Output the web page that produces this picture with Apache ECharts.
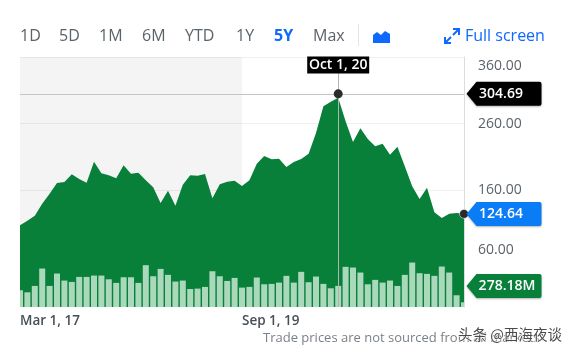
<!DOCTYPE html>
<html>
<head>
<meta charset="utf-8">
<style>
  html, body { margin: 0; padding: 0; background: #fff; }
  #main { width: 573px; height: 351px; }
</style>
<script src="https://cdn.jsdelivr.net/npm/echarts@6/dist/echarts.min.js"></script>
</head>
<body>
<div id="main"></div>
<script>
const dates = [
  "Mar 1, 17","Apr 1, 17","May 1, 17","Jun 1, 17","Jul 1, 17","Aug 1, 17","Sep 1, 17","Oct 1, 17","Nov 1, 17","Dec 1, 17",
  "Jan 1, 18","Feb 1, 18","Mar 1, 18","Apr 1, 18","May 1, 18","Jun 1, 18","Jul 1, 18","Aug 1, 18","Sep 1, 18","Oct 1, 18",
  "Nov 1, 18","Dec 1, 18","Jan 1, 19","Feb 1, 19","Mar 1, 19","Apr 1, 19","May 1, 19","Jun 1, 19","Jul 1, 19","Aug 1, 19",
  "Sep 1, 19","Oct 1, 19","Nov 1, 19","Dec 1, 19","Jan 1, 20","Feb 1, 20","Mar 1, 20","Apr 1, 20","May 1, 20","Jun 1, 20",
  "Jul 1, 20","Aug 1, 20","Sep 1, 20","Oct 1, 20","Nov 1, 20","Dec 1, 20","Jan 1, 21","Feb 1, 21","Mar 1, 21","Apr 1, 21",
  "May 1, 21","Jun 1, 21","Jul 1, 21","Aug 1, 21","Sep 1, 21","Oct 1, 21","Nov 1, 21","Dec 1, 21","Jan 1, 22","Feb 1, 22",
  "Mar 1, 22"
];
const prices = [
  107.5,114.5,122,140,155,171,172.5,184,177,171.5,
  203,185.5,182.5,178,197.5,185,186.5,175,164.5,141,
  159.5,137,168.5,182.5,182,184.5,148,169,173,174.5,
  166.5,175,200,211.5,206.5,207.5,195,202.5,207,215,
  246,286,293,299,263.5,232.5,253,237,226,230,
  213.5,225.5,196,166,147,164,127,118.5,125,126,
  124.64
];
const volumes = [
  221,194,278,508,278,442,349,331,397,397,
  415,415,366,318,393,393,318,552,406,503,
  424,336,349,238,243,265,472,406,344,384,
  256,265,389,300,305,322,411,322,464,327,
  402,305,247,278.18,530,521,455,300,358,322,
  349,278,424,587,446,437,411,534,455,155,
  62
];
const priceTicks = [60, 160, 260, 360];
const xLabelDates = ["Mar 1, 17", "Sep 1, 19"];
const ranges = ["1D", "5D", "1M", "6M", "YTD", "1Y", "5Y", "Max"];
const rangeX = [20, 59, 99, 142, 185, 236, 274, 313];
const hoverDate = "Oct 1, 20";
const hoverPrice = 304.69;
const hoverVolume = 278.18;
const lastDate = "Mar 1, 22";
const lastPrice = 124.64;

const font = '"Open Sans", sans-serif';
const tagPath = "path://M0 12 L10 0 L73 0 Q75 0 75 2 L75 22 Q75 24 73 24 L10 24 Z";

function tag(date, value, color, text, dx) {
  return {
    coord: [date, value],
    symbol: tagPath,
    symbolSize: [75, 24],
    symbolOffset: [40, 0],
    itemStyle: { color: color, shadowColor: "rgba(0,0,0,0.3)", shadowBlur: 2, shadowOffsetY: 1 },
    label: {
      show: true, position: "inside", offset: [dx, 0], formatter: text,
      color: "#fff", fontFamily: font, fontSize: 14, fontWeight: 600
    }
  };
}

function topText(str, x, y, fill, cssFont, extra) {
  return {
    type: "text",
    x: x,
    y: y,
    z: 10,
    style: Object.assign({ text: str, fill: fill, font: cssFont, textVerticalAlign: "middle" }, extra || {})
  };
}

// volume bars, cut off at the plot edges like the first and last month in the original
function renderVolumeBar(params, api) {
  const top = api.coord([api.value(0), api.value(1)]);
  const bottom = api.coord([api.value(0), 0]);
  const rect = echarts.graphic.clipRectByRect(
    { x: top[0] - 3, y: top[1], width: 6, height: bottom[1] - top[1] },
    { x: params.coordSys.x, y: params.coordSys.y, width: params.coordSys.width, height: params.coordSys.height }
  );
  return rect && { type: "rect", shape: rect, style: { fill: "#a9d8ba" } };
}

let myChart = echarts.init(document.getElementById("main"), null, { renderer: "canvas" });

let toolbar = ranges.map((r, i) =>
  topText(r, rangeX[i], 36, r === "5Y" ? "#0f69ff" : "#5b636a", (r === "5Y" ? "700" : "400") + " 16px " + font)
);

myChart.setOption({
  animation: false,
  grid: { left: 20, right: 109, top: 57, bottom: 44 },
  xAxis: {
    type: "category",
    data: dates,
    boundaryGap: false,
    axisLine: { show: false },
    axisTick: { show: false },
    axisLabel: {
      interval: (i, v) => xLabelDates.includes(v),
      formatter: (v) => v,
      align: "left",
      margin: 7,
      hideOverlap: false,
      color: "#464e56",
      fontFamily: font,
      fontSize: 13.5,
      fontWeight: 600
    }
  },
  yAxis: [
    {
      type: "value",
      position: "right",
      min: -15,
      max: 360,
      axisLine: { show: true, lineStyle: { color: "#dcdcdc" } },
      axisTick: { show: false, customValues: priceTicks },
      splitLine: { show: true, lineStyle: { color: "#f0f0f0" } },
      axisLabel: {
        customValues: priceTicks,
        formatter: (v) => v.toFixed(2),
        margin: 14,
        padding: [2, 0, 0, 0],
        verticalAlignMinLabel: "bottom",
        verticalAlignMaxLabel: "top",
        color: "#5b636a",
        fontFamily: font,
        fontSize: 14
      }
    },
    { type: "value", min: 0, max: 3300, show: false, splitLine: { show: false } }
  ],
  series: [
    {
      // shaded part of the history
      type: "line",
      z: 1,
      data: [],
      silent: true,
      markArea: {
        silent: true,
        itemStyle: { color: "rgba(0,0,0,0.045)" },
        data: [[{ xAxis: xLabelDates[0] }, { xAxis: xLabelDates[1] }]]
      }
    },
    {
      type: "line",
      z: 2,
      data: prices,
      showSymbol: false,
      lineStyle: { width: 0 },
      areaStyle: { color: "#08803a", opacity: 1, origin: "start" },
      markLine: {
        silent: true,
        symbol: "none",
        z: 6,
        label: { show: false },
        data: [
          { yAxis: hoverPrice, lineStyle: { color: "#c4c4c4", width: 1, type: "solid" } },
          { xAxis: hoverDate, lineStyle: { color: "#b4b4b4", width: 1, type: "solid" } }
        ]
      },
      markPoint: {
        silent: true,
        z: 7,
        data: [
          {
            coord: [hoverDate, hoverPrice], symbol: "circle", symbolSize: 9,
            itemStyle: { color: "#2b2b2b" }, label: { show: false }
          },
          {
            coord: [lastDate, lastPrice], symbol: "circle", symbolSize: 9,
            itemStyle: { color: "#2b2b2b", borderColor: "#fff", borderWidth: 0.5 }, label: { show: false }
          },
          {
            coord: [hoverDate, 360], symbol: "rect", symbolSize: [62, 17], symbolOffset: [0, 8],
            itemStyle: { color: "#000" },
            label: {
              show: true, position: "inside", formatter: hoverDate,
              color: "#fff", fontFamily: font, fontSize: 14, fontWeight: 600
            }
          },
          tag(lastDate, hoverPrice, "#000", hoverPrice.toFixed(2), -3),
          tag(lastDate, lastPrice, "#0a7cf5", lastPrice.toFixed(2), -3)
        ]
      }
    },
    {
      type: "custom",
      z: 3,
      yAxisIndex: 1,
      data: volumes.map((v, i) => [i, v]),
      encode: { x: 0, y: 1 },
      renderItem: renderVolumeBar,
      markPoint: {
        silent: true,
        z: 7,
        data: [tag(lastDate, hoverVolume, "#08803a", hoverVolume.toFixed(2) + "M", 3)]
      }
    }
  ],
  graphic: toolbar.concat([
    { type: "rect", shape: { x: 358, y: 24, width: 1, height: 22 }, style: { fill: "#e4e4e4" } },
    {
      // area chart button
      type: "polygon",
      shape: { points: [[373, 43], [373, 35], [377, 32], [381, 35], [385, 31], [390, 34], [390, 43]] },
      style: { fill: "#0f69ff" }
    },
    // full screen arrows
    { type: "polyline", shape: { points: [[445, 37], [445, 43], [451, 43]] }, style: { stroke: "#0f69ff", lineWidth: 2, fill: null } },
    { type: "line", shape: { x1: 445, y1: 43, x2: 451, y2: 37 }, style: { stroke: "#0f69ff", lineWidth: 2 } },
    { type: "polyline", shape: { points: [[453, 29], [459, 29], [459, 35]] }, style: { stroke: "#0f69ff", lineWidth: 2, fill: null } },
    { type: "line", shape: { x1: 459, y1: 29, x2: 453, y2: 35 }, style: { stroke: "#0f69ff", lineWidth: 2 } },
    topText("Full screen", 465, 36, "#0f69ff", "400 16px " + font),
    topText("Trade prices are not sourced from all markets", 263, 338, "#7b8187", "400 13px " + font),
    topText("头条 @西海夜谈", 458, 334, "#4a4a4a", '400 14.5px "Noto Sans CJK SC"', { stroke: "#fff", lineWidth: 1 })
  ])
});
</script>
</body>
</html>
